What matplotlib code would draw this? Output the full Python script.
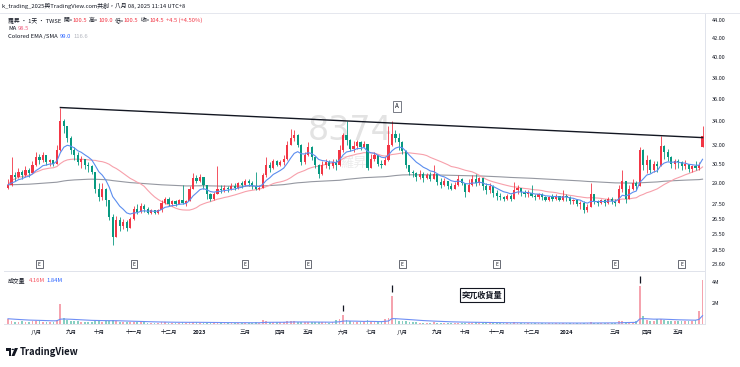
import matplotlib
matplotlib.use('Agg')
import matplotlib.pyplot as plt
from matplotlib.lines import Line2D
from matplotlib.patches import Polygon, Rectangle, Circle
from matplotlib.transforms import blended_transform_factory
import numpy as np
import pandas as pd

plt.rcParams['font.family'] = ['Noto Sans CJK TC', 'DejaVu Sans']

W, H = 740, 367

# candles, one per ~2.4 trading days, Jul 2022 -> May 2024
closes = [
    28.9, 29.6, 29.5, 29.9, 29.6, 30.0, 29.8, 30.4, 31.0, 30.8,
    31.2, 30.6, 30.8, 30.5, 31.6, 34.0, 33.6, 32.6, 31.6, 31.2,
    30.6, 30.9, 30.4, 30.3, 29.9, 28.6, 28.0, 28.6, 27.8, 26.6,
    25.3, 26.4, 26.0, 26.3, 25.9, 26.5, 27.2, 27.0, 27.4, 27.2,
    26.9, 27.1, 26.9, 27.1, 27.6, 27.9, 27.5, 27.7, 27.5, 27.8,
    27.6, 27.7, 28.6, 29.4, 29.2, 29.5, 28.9, 28.2, 27.9, 28.2,
    28.6, 28.5, 28.7, 28.6, 28.8, 28.7, 29.0, 28.9, 29.2, 29.0,
    28.8, 28.6, 28.7, 29.6, 30.4, 30.2, 30.7, 30.4, 30.6, 30.9,
    32.0, 32.6, 32.8, 32.0, 30.6, 31.2, 31.8, 31.0, 30.4, 29.7,
    30.4, 30.6, 30.3, 30.6, 30.4, 31.6, 32.8, 32.4, 31.7, 31.9,
    32.2, 31.8, 32.1, 30.2, 30.9, 31.2, 30.5, 30.4, 30.8, 32.0,
    32.9, 32.6, 32.2, 31.5, 30.4, 29.9, 29.8, 29.5, 29.7, 29.4,
    29.6, 29.3, 29.7, 29.1, 28.9, 29.2, 28.8, 28.6, 28.9, 29.3,
    29.0, 28.4, 28.9, 29.3, 29.0, 29.4, 28.8, 28.5, 28.8, 28.3,
    28.1, 28.0, 27.9, 28.1, 27.9, 28.5, 28.7, 28.4, 28.2, 28.3,
    28.1, 28.0, 28.2, 28.0, 27.8, 28.0, 27.9, 28.1, 27.8, 28.1,
    28.0, 27.7, 27.8, 27.5, 27.6, 27.1, 27.3, 28.2, 27.7, 27.6,
    27.8, 27.6, 27.9, 27.7, 27.6, 28.6, 29.2, 27.9, 28.6, 29.0,
    28.8, 31.6, 30.4, 30.8, 30.0, 30.5, 30.3, 31.9, 31.4, 31.0,
    30.5, 30.7, 30.6, 30.3, 30.5, 30.1, 30.3, 30.2, 30.4, 32.7,
]
highs = [
    29.3, 31.0, 29.9, 30.2, 30.0, 30.3, 30.2, 30.7, 31.4, 31.3,
    31.4, 31.1, 30.9, 30.8, 32.0, 35.2, 34.2, 33.5, 32.7, 31.8,
    31.4, 31.1, 30.9, 30.6, 30.4, 29.6, 29.0, 29.0, 28.7, 27.8,
    26.8, 26.7, 26.6, 26.5, 26.4, 26.6, 27.4, 27.5, 27.6, 27.5,
    27.3, 27.2, 27.1, 27.2, 27.8, 28.0, 28.0, 27.8, 27.8, 27.9,
    28.9, 27.8, 28.8, 29.8, 29.6, 29.7, 29.5, 28.9, 28.3, 28.4,
    30.3, 28.9, 28.9, 28.8, 29.0, 29.0, 29.1, 29.2, 29.3, 29.3,
    29.2, 29.9, 28.9, 29.8, 31.0, 30.6, 30.9, 30.8, 30.8, 31.2,
    32.3, 33.3, 33.2, 32.9, 32.1, 31.4, 32.2, 31.9, 31.1, 30.5,
    30.7, 30.9, 30.8, 30.9, 30.9, 32.0, 33.0, 34.0, 32.5, 32.3,
    32.4, 32.3, 32.3, 32.1, 31.3, 31.4, 31.2, 30.8, 31.0, 33.6,
    34.0, 33.2, 33.0, 32.3, 31.6, 30.4, 30.0, 29.9, 30.0, 29.9,
    29.8, 29.9, 30.4, 29.7, 29.4, 29.4, 29.2, 29.0, 29.1, 29.6,
    29.4, 29.0, 29.3, 29.6, 29.7, 29.5, 29.4, 29.0, 29.0, 28.9,
    28.5, 28.3, 28.1, 28.2, 28.2, 29.1, 28.9, 28.7, 28.5, 28.5,
    28.9, 28.2, 28.3, 28.3, 28.1, 28.1, 28.2, 28.2, 28.1, 28.5,
    28.2, 28.1, 27.9, 27.9, 27.7, 27.7, 27.5, 29.0, 28.2, 27.8,
    27.9, 27.9, 28.0, 28.0, 27.9, 28.9, 30.0, 29.2, 28.9, 29.3,
    29.2, 31.8, 31.7, 31.2, 30.9, 30.7, 30.7, 32.7, 32.0, 31.7,
    31.1, 30.9, 30.9, 30.7, 30.8, 30.5, 30.4, 30.7, 30.6, 33.6,
]
lows = [
    28.6, 28.8, 29.2, 29.4, 29.3, 29.5, 29.5, 29.8, 30.3, 30.5,
    30.6, 30.4, 30.3, 30.3, 30.5, 31.5, 33.0, 32.2, 31.3, 30.8,
    30.4, 30.2, 30.1, 29.9, 29.7, 28.3, 27.7, 27.8, 27.4, 26.4,
    24.8, 25.4, 25.7, 25.8, 25.7, 25.9, 26.4, 26.8, 26.9, 27.0,
    26.8, 26.8, 26.8, 26.8, 27.0, 27.5, 27.4, 27.4, 27.4, 27.5,
    27.5, 27.4, 27.7, 28.6, 29.0, 29.1, 28.6, 27.9, 27.7, 27.8,
    28.2, 28.3, 28.4, 28.4, 28.5, 28.5, 28.6, 28.7, 28.8, 28.8,
    28.6, 28.5, 28.5, 28.7, 29.5, 29.9, 30.1, 30.3, 30.3, 30.4,
    30.8, 32.0, 32.3, 31.8, 30.4, 30.5, 31.1, 30.8, 30.2, 29.4,
    29.6, 30.2, 30.1, 30.2, 30.0, 30.3, 31.4, 32.0, 31.5, 31.4,
    31.7, 31.6, 31.8, 30.0, 30.2, 30.7, 30.3, 30.2, 30.4, 30.7,
    31.9, 32.2, 31.6, 31.3, 30.2, 29.6, 29.5, 29.2, 29.3, 29.1,
    29.3, 29.2, 29.3, 28.9, 28.7, 28.8, 28.6, 28.5, 28.6, 28.8,
    28.9, 28.0, 28.4, 28.8, 28.8, 28.9, 28.5, 28.2, 28.3, 28.0,
    27.8, 27.8, 27.7, 27.8, 27.7, 27.9, 28.2, 28.1, 28.0, 28.0,
    28.0, 27.8, 27.9, 27.8, 27.7, 27.7, 27.7, 27.8, 27.7, 27.7,
    27.7, 27.5, 27.5, 27.4, 27.2, 26.9, 27.0, 27.3, 27.5, 27.4,
    27.5, 27.4, 27.5, 27.5, 27.4, 27.6, 28.4, 27.6, 27.9, 28.5,
    28.5, 28.8, 30.0, 29.8, 29.8, 29.9, 29.9, 30.3, 30.9, 30.7,
    30.2, 30.1, 30.2, 30.0, 30.1, 29.9, 29.9, 30.0, 30.0, 31.8,
]
first_open = 28.7
last_open = 31.8

# volume in millions
volumes = [
    0.5, 0.3, 0.2, 0.2, 0.25, 0.2, 0.2, 0.3, 0.3, 0.25,
    0.2, 0.2, 0.2, 0.2, 0.4, 1.9, 0.6, 0.4, 0.3, 0.3,
    0.25, 0.2, 0.2, 0.2, 0.2, 0.3, 0.3, 0.2, 0.25, 0.3,
    0.35, 0.25, 0.2, 0.2, 0.15, 0.2, 0.2, 0.15, 0.15, 0.15,
    0.12, 0.12, 0.1, 0.12, 0.15, 0.15, 0.12, 0.1, 0.1, 0.12,
    0.2, 0.1, 0.15, 0.2, 0.15, 0.12, 0.12, 0.1, 0.1, 0.1,
    0.2, 0.1, 0.1, 0.1, 0.1, 0.1, 0.1, 0.1, 0.12, 0.1,
    0.1, 0.15, 0.12, 0.35, 0.3, 0.2, 0.2, 0.15, 0.15, 0.2,
    0.3, 0.3, 0.25, 0.2, 0.2, 0.15, 0.2, 0.15, 0.15, 0.2,
    0.15, 0.15, 0.12, 0.15, 0.35, 0.45, 0.85, 0.4, 0.25, 0.2,
    0.2, 0.15, 0.15, 0.35, 0.2, 0.15, 0.15, 0.15, 0.5, 0.6,
    2.7, 0.45, 0.3, 0.25, 0.25, 0.2, 0.15, 0.15, 0.12, 0.12,
    0.12, 0.12, 0.15, 0.12, 0.1, 0.1, 0.1, 0.1, 0.1, 0.12,
    0.1, 0.12, 0.1, 0.12, 0.15, 0.1, 0.1, 0.1, 0.1, 0.1,
    0.1, 0.08, 0.08, 0.08, 0.08, 0.15, 0.1, 0.08, 0.08, 0.08,
    0.12, 0.08, 0.08, 0.08, 0.08, 0.08, 0.08, 0.08, 0.08, 0.1,
    0.08, 0.08, 0.08, 0.08, 0.1, 0.1, 0.08, 0.2, 0.1, 0.08,
    0.08, 0.08, 0.08, 0.08, 0.1, 0.25, 0.3, 0.2, 0.2, 0.2,
    0.25, 3.6, 0.8, 0.35, 0.3, 0.3, 0.5, 0.5, 0.35, 0.3,
    0.3, 0.25, 0.3, 0.3, 0.25, 0.3, 0.3, 0.35, 1.2, 4.16,
]

price_ticks = [44, 42, 40, 38, 36, 34, 32, 30.5, 29, 27.5, 26.5, 25.5, 24.5, 23.6]
vol_ticks = [2, 4]
month_pos = [8, 18, 26, 36, 46, 55, 68, 78, 86, 96, 104, 113, 123, 131, 140, 150, 160, 174, 183, 192]
month_labels = ['八月', '九月', '十月', '十一月', '十二月', '2023', '三月', '四月', '五月', '六月',
                '七月', '八月', '九月', '十月', '十一月', '十二月', '2024', '三月', '四月', '五月']
earnings_idx = [9, 36, 68, 86, 113, 140, 174, 193]
volume_flags = [96, 110, 181]
trend_start = 15
trend_end_price = 32.6
note_a = (111.5, 35.3)

RED = '#f23645'
GREEN = '#089981'
DARK = '#131722'
GRID = '#e0e3eb'


def fx(x):
    return x / W


def fy(y):
    return 1 - y / H


def text_row(fig, x, y, parts, size=4.2):
    r = fig.canvas.get_renderer()
    for s, col, gap in parts:
        t = fig.text(fx(x), fy(y), s, color=col, fontsize=size, ha='left', va='center')
        x += t.get_window_extent(r).width + gap


fig = plt.figure(figsize=(W / 100, H / 100), dpi=100, facecolor='white')
ax = fig.add_axes([fx(4), fy(271), fx(705) - fx(4), fy(14) - fy(271)])
axv = fig.add_axes([fx(4), fy(324), fx(705) - fx(4), fy(272) - fy(324)], sharex=ax)

c = np.array(closes)
o = np.r_[first_open, c[:-1]]
o[-1] = last_open
h = np.maximum(np.array(highs), np.maximum(o, c))
l = np.minimum(np.array(lows), np.minimum(o, c))
idx = np.arange(len(c))
up = c >= o
cols = np.where(up, RED, GREEN)

# moving averages
s = pd.Series(c)
ema_fast = s.ewm(span=9, adjust=False).mean()
ma_mid = s.rolling(25, min_periods=1).mean()
ma_slow = s.ewm(span=200, adjust=False).mean()

ax.set_yscale('log')
ax.plot(idx, ma_slow, color='#9598a1', lw=0.8, zorder=2)
ax.plot(idx, ma_mid, color='#f7a0ab', lw=0.8, zorder=2)
ax.vlines(idx, l, h, colors=cols, lw=0.6, zorder=3)
ax.bar(idx, np.maximum(np.abs(c - o), 0.05), bottom=np.minimum(o, c), width=0.62,
       color=cols, lw=0, zorder=3)
ax.plot(idx, ema_fast, color='#5b8def', lw=0.8, zorder=4)
ax.plot([trend_start, idx[-1]], [h[trend_start], trend_end_price], color=DARK, lw=1.0, zorder=5)

ax.text(fx(350), fy(130), '8374', transform=fig.transFigure, fontsize=24, color='#e3e3e3',
        ha='center', va='center', zorder=0, family='DejaVu Sans')
ax.text(fx(353), fy(163), '羅昇', transform=fig.transFigure, fontsize=9.5, color='#ececec',
        ha='center', va='center', zorder=0)
ax.text(note_a[0], note_a[1], 'A', fontsize=4.5, color=DARK, ha='center', va='center', zorder=6,
        bbox=dict(boxstyle='square,pad=0.3', fc='white', ec='#787b86', lw=0.7))

trans_e = blended_transform_factory(ax.transData, ax.transAxes)
for i in earnings_idx:
    ax.text(i, 0.027, 'E', transform=trans_e, fontsize=3.5, color=DARK, ha='center', va='center',
            bbox=dict(boxstyle='square,pad=0.35', fc='white', ec='#50535e', lw=0.6), zorder=6)

ax.set_xlim(-1.15, 199.7)
ax.set_ylim(23.2, 44.68)
ax.yaxis.tick_right()
ax.yaxis.set_minor_locator(matplotlib.ticker.NullLocator())
ax.set_yticks(price_ticks)
ax.set_yticklabels([f'{t:.2f}' for t in price_ticks])
ax.tick_params(axis='y', length=0, pad=5, labelsize=4, labelcolor=DARK)
ax.tick_params(axis='x', length=0, labelbottom=False)
for side in ['top', 'left']:
    ax.spines[side].set_visible(False)
for side in ['right', 'bottom']:
    ax.spines[side].set_color(GRID)
    ax.spines[side].set_linewidth(0.7)

# volume pane
v = np.array(volumes)
vcols = np.where(up, '#f5a3ae', '#88cfc2')
axv.bar(idx, v, width=0.5, color=vcols, lw=0)
axv.plot(idx, pd.Series(v).ewm(span=20, adjust=False).mean(), color='#6f8ff5', lw=0.8)
for i in volume_flags:
    axv.vlines(i, v[i] + 0.35, v[i] + 1.0, color=DARK, lw=0.9)
axv.text(fx(482), fy(295), '突兀收貨量', transform=fig.transFigure, fontsize=5.9, fontweight='bold',
         color=DARK, ha='center', va='center',
         bbox=dict(boxstyle='square,pad=0.25', fc='white', ec=DARK, lw=0.8))
axv.set_ylim(0, 4.95)
axv.yaxis.tick_right()
axv.set_yticks(vol_ticks)
axv.set_yticklabels([f'{t}M' for t in vol_ticks])
axv.tick_params(axis='y', length=0, pad=5, labelsize=4, labelcolor=DARK)
axv.set_xticks(month_pos)
axv.set_xticklabels(month_labels)
axv.tick_params(axis='x', length=0, pad=4, labelsize=4, labelcolor=DARK)
for lab in axv.get_xticklabels():
    if lab.get_text() in ('2023', '2024'):
        lab.set_fontweight('bold')
for side in ['top', 'left']:
    axv.spines[side].set_visible(False)
for side in ['right', 'bottom']:
    axv.spines[side].set_color(GRID)
    axv.spines[side].set_linewidth(0.7)

# header and legends
fig.add_artist(Line2D([0, 1], [fy(13), fy(13)], color=GRID, lw=0.6))
fig.text(fx(2), fy(6), 'k_trading_2025與TradingView.com共創，八月 08, 2025 11:14 UTC+8',
         fontsize=4.2, color=DARK, ha='left', va='center')
text_row(fig, 8, 20.5, [('羅昇 · 1天 · TWSE', DARK, 2), ('開=', DARK, 0), ('100.5', RED, 2),
                        ('高=', DARK, 0), ('109.0', RED, 2), ('低=', DARK, 0), ('100.5', RED, 2),
                        ('收=', DARK, 0), ('104.5', RED, 2), ('+4.5 (+4.50%)', RED, 0)])
text_row(fig, 8, 29, [('MA', DARK, 2), ('98.5', '#f06080', 0)])
text_row(fig, 8, 36.7, [('Colored EMA /SMA', DARK, 2), ('99.0', '#2962ff', 2), ('116.6', '#b2b5be', 0)])
text_row(fig, 8, 280, [('成交量', DARK, 3), ('4.16M', '#f7525f', 2), ('1.84M', '#2962ff', 0)])

# TradingView logo
fig.add_artist(Rectangle((fx(5.5), fy(350.5)), fx(5.5), fy(348) - fy(350.5), transform=fig.transFigure,
                         color=DARK, lw=0))
fig.add_artist(Rectangle((fx(8.5), fy(356)), fx(2.5), fy(348) - fy(356), transform=fig.transFigure,
                         color=DARK, lw=0))
fig.add_artist(Circle((fx(12.8), fy(349.4)), fx(1.3), transform=fig.transFigure, color=DARK, lw=0))
fig.add_artist(Polygon([(fx(14.8), fy(348)), (fx(18), fy(348)), (fx(14.5), fy(356)), (fx(11.5), fy(356))],
                       closed=True, transform=fig.transFigure, color=DARK, lw=0))
fig.text(fx(20), fy(352), 'TradingView', fontsize=6.8, fontweight='bold', color=DARK,
         ha='left', va='center')

fig.savefig('out.png', dpi=100, facecolor='white')
